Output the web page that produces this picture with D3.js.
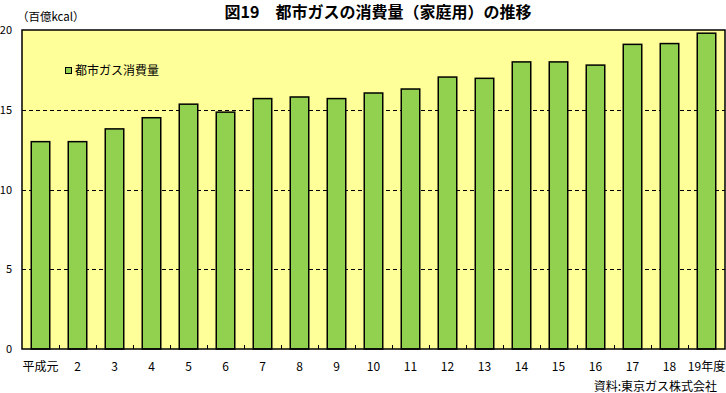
<!DOCTYPE html>
<html>
<head>
<meta charset="utf-8">
<script src="https://cdn.jsdelivr.net/npm/d3@7"></script>
<style>
  html, body { margin: 0; padding: 0; background: #ffffff; }
  svg { display: block; font-family: "Noto Sans CJK JP", "Noto Sans", sans-serif; }
</style>
</head>
<body>
<svg id="chart" width="726" height="393"></svg>
<script>
const categories = ["平成元","2","3","4","5","6","7","8","9","10","11","12","13","14","15","16","17","18","19年度"];
const gasConsumption = [13.0,13.0,13.8,14.5,15.35,14.85,15.7,15.8,15.7,16.05,16.3,17.05,16.97,18.0,18.0,17.8,19.1,19.15,19.8];
const yTicks = [0,5,10,15,20];
const seriesName = "都市ガス消費量";
const titleText = "図19　都市ガスの消費量（家庭用）の推移";
const unitText = "（百億kcal）";
const sourceText = "資料:東京ガス株式会社";

const svg = d3.select("#chart");
const plot = {left: 22, right: 725, top: 30, bottom: 349};

const x = d3.scaleBand().domain(categories).range([plot.left, plot.right]).paddingInner(0.5).paddingOuter(0.25);
const y = d3.scaleLinear().domain([0, 20]).range([plot.bottom, plot.top]);

// background
svg.append("rect")
  .attr("x", plot.left).attr("y", plot.top)
  .attr("width", plot.right - plot.left).attr("height", plot.bottom - plot.top)
  .attr("fill", "#FFFF99");

// gridlines
svg.append("g").selectAll("line").data(yTicks.filter(d => d > 0 && d < 20)).join("line")
  .attr("x1", plot.left).attr("x2", plot.right)
  .attr("y1", d => Math.round(y(d)) + 0.5).attr("y2", d => Math.round(y(d)) + 0.5)
  .attr("stroke", "#000").attr("stroke-width", 1).attr("stroke-dasharray", "4,3");

// bars
svg.append("g").selectAll("rect").data(gasConsumption).join("rect")
  .attr("x", (d, i) => x(categories[i]))
  .attr("y", d => y(d))
  .attr("width", x.bandwidth())
  .attr("height", d => plot.bottom - y(d))
  .attr("fill", "#92D050")
  .attr("stroke", "#000").attr("stroke-width", 1.5);

// frame
svg.append("rect")
  .attr("x", plot.left).attr("y", plot.top)
  .attr("width", plot.right - plot.left).attr("height", plot.bottom - plot.top)
  .attr("fill", "none").attr("stroke", "#000").attr("stroke-width", 1.5);

// x-axis ticks (inside, at band boundaries)
const step = x.step();
const boundaries = categories.slice(1).map((c, i) => x(c) - x.paddingInner() * step / 2);
svg.append("g").selectAll("line").data(boundaries).join("line")
  .attr("x1", d => Math.round(d) + 0.5).attr("x2", d => Math.round(d) + 0.5)
  .attr("y1", plot.bottom).attr("y2", plot.bottom - 4)
  .attr("stroke", "#000").attr("stroke-width", 1);

// x labels
svg.append("g").selectAll("text").data(categories).join("text")
  .attr("x", d => x(d) + x.bandwidth() / 2)
  .attr("y", 371)
  .attr("text-anchor", "middle")
  .attr("font-size", 12)
  .attr("fill", "#000")
  .text(d => d);

// y axis labels
const yAxis = d3.axisLeft(y).tickValues(yTicks).tickSize(0).tickPadding(0).tickFormat(d3.format("d"));
const gy = svg.append("g").attr("transform", `translate(${plot.left - 10},0)`).call(yAxis);
gy.select(".domain").remove();
gy.selectAll("text").attr("font-size", 11).attr("fill", "#000").attr("font-family", "\"Noto Sans CJK JP\", sans-serif");

// title
svg.append("text")
  .attr("x", 378).attr("y", 18)
  .attr("text-anchor", "middle")
  .attr("font-size", 16).attr("font-weight", "bold")
  .text(titleText);

// unit
svg.append("text")
  .attr("x", 17).attr("y", 21)
  .attr("font-size", 11.5)
  .text(unitText);

// legend
svg.append("rect").attr("x", 65.5).attr("y", 67.5).attr("width", 6).attr("height", 6)
  .attr("fill", "#92D050").attr("stroke", "#000").attr("stroke-width", 1);
svg.append("text").attr("x", 75).attr("y", 75).attr("font-size", 12).text(seriesName);

// source
svg.append("text")
  .attr("x", 717).attr("y", 391)
  .attr("text-anchor", "end")
  .attr("font-size", 12)
  .text(sourceText);
</script>
</body>
</html>
